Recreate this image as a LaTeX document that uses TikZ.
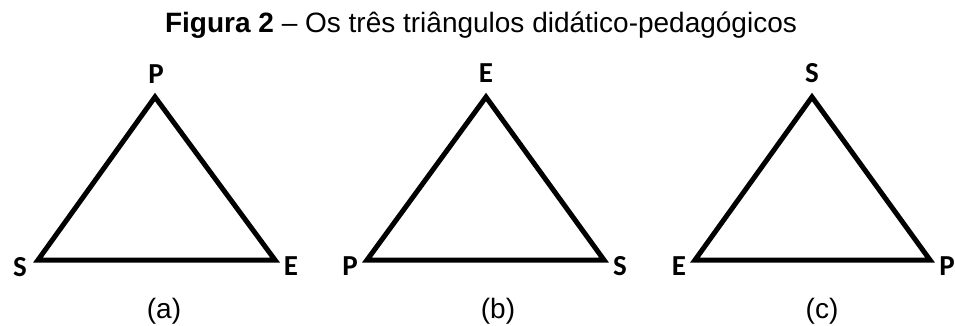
\documentclass[tikz,border=0pt]{standalone}
\usepackage{fontspec}
\setmainfont{Liberation Sans}
\newfontfamily\lblfont{Carlito}
\begin{document}
\begin{tikzpicture}[x=1pt,y=-1pt,
  tri/.style={line width=5pt,line join=miter},
  vlab/.style={font=\lblfont\bfseries\fontsize{29}{32}\selectfont,inner sep=0pt},
  subcap/.style={font=\fontsize{28}{32}\selectfont,inner sep=0pt,anchor=base},
  ttl/.style={font=\fontsize{28}{32}\selectfont,inner sep=0pt,anchor=base}]
\useasboundingbox (0,0) rectangle (955,326);
\node[ttl] (title) at (481,33) {\textbf{Figura 2} – Os três triângulos didático-pedagógicos};
% (a)
\coordinate (aT) at (155,97);
\coordinate (aL) at (38,260);
\coordinate (aR) at (275,260);
\draw[tri] (aT) -- (aL) -- (aR) -- cycle;
\node[vlab] (aP) at (156,74) {P};
\node[vlab] (aS) at (20,267) {S};
\node[vlab] (aE) at (291,266) {E};
\node[subcap] (ca) at (164,318) {(a)};
% (b)
\coordinate (bT) at (486,97);
\coordinate (bL) at (367,260);
\coordinate (bR) at (604,260);
\draw[tri] (bT) -- (bL) -- (bR) -- cycle;
\node[vlab] (bE) at (486,73) {E};
\node[vlab] (bP) at (350,266) {P};
\node[vlab] (bS) at (620,266) {S};
\node[subcap] (cb) at (498,318) {(b)};
% (c)
\coordinate (cT) at (812,97);
\coordinate (cL) at (695,260);
\coordinate (cR) at (930,260);
\draw[tri] (cT) -- (cL) -- (cR) -- cycle;
\node[vlab] (cS) at (812,73) {S};
\node[vlab] (cE) at (679,266) {E};
\node[vlab] (cP) at (947,266) {P};
\node[subcap] (cc) at (822,318) {(c)};
\end{tikzpicture}
\end{document}
